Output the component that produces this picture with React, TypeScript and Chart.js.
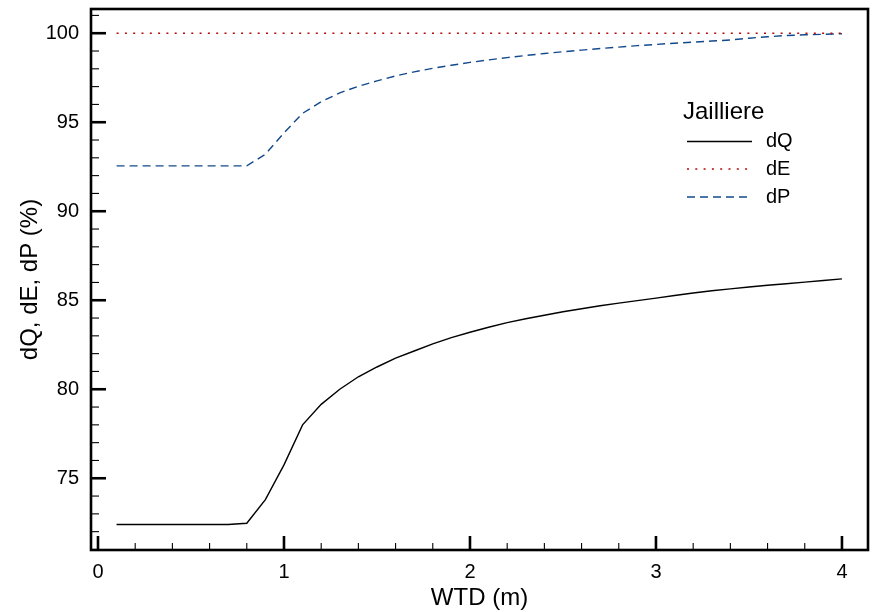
import { useEffect, useRef } from "react";
import { Chart, registerables } from "chart.js";

Chart.register(...registerables);

// Water table depth (m)
const WTD = [
  0.1, 0.2, 0.3, 0.4, 0.5, 0.6, 0.7, 0.8, 0.9, 1.0,
  1.1, 1.2, 1.3, 1.4, 1.5, 1.6, 1.7, 1.8, 1.9, 2.0,
  2.1, 2.2, 2.3, 2.4, 2.5, 2.6, 2.7, 2.8, 2.9, 3.0,
  3.1, 3.2, 3.3, 3.4, 3.5, 3.6, 3.7, 3.8, 3.9, 4.0,
];

// Relative changes (%)
const DQ = [
  72.4, 72.4, 72.4, 72.4, 72.4, 72.4, 72.4, 72.47, 73.8, 75.75,
  78.0, 79.15, 80.0, 80.7, 81.25, 81.75, 82.15, 82.55, 82.9, 83.2,
  83.48, 83.74, 83.96, 84.16, 84.35, 84.52, 84.69, 84.84, 84.98, 85.12,
  85.27, 85.41, 85.53, 85.64, 85.74, 85.84, 85.93, 86.02, 86.11, 86.2,
];

const DE = [
  100, 100, 100, 100, 100, 100, 100, 100, 100, 100,
  100, 100, 100, 100, 100, 100, 100, 100, 100, 100,
  100, 100, 100, 100, 100, 100, 100, 100, 100, 100,
  100, 100, 100, 100, 100, 100, 100, 100, 100, 100,
];

const DP = [
  92.55, 92.55, 92.55, 92.55, 92.55, 92.55, 92.55, 92.55, 93.2, 94.4,
  95.5, 96.15, 96.65, 97.02, 97.32, 97.6, 97.83, 98.03, 98.2, 98.36,
  98.5, 98.63, 98.75, 98.86, 98.96, 99.05, 99.14, 99.22, 99.3, 99.37,
  99.44, 99.5, 99.56, 99.62, 99.72, 99.8, 99.87, 99.91, 99.94, 99.97,
];

const SERIES_LABELS = ["dQ", "dE", "dP"];
const LEGEND_TITLE = "Jailliere";
const X_TITLE = "WTD (m)";
const Y_TITLE = "dQ, dE, dP (%)";
const X_TICKS = [0, 1, 2, 3, 4];
const Y_TICKS = [75, 80, 85, 90, 95, 100];

const FONT = '"Liberation Sans", Arial, Helvetica, sans-serif';

const toPoints = (ys: number[]) => WTD.map((x, i) => ({ x, y: ys[i] }));

// Box frame with inward-pointing major/minor ticks, axis titles and legend
const decorations = {
  id: "decorations",
  afterDraw(chart: any) {
    const { ctx, chartArea: a, scales } = chart;
    const xs = scales.x;
    const ys = scales.y;
    ctx.save();
    ctx.strokeStyle = "#000";
    ctx.lineCap = "butt";

    // x ticks (minor every 0.2)
    for (let i = 0; i <= 20; i++) {
      const px = xs.getPixelForValue(i / 5);
      if (px < a.left || px > a.right) continue;
      const major = i % 5 === 0;
      ctx.lineWidth = major ? 2.6 : 1.1;
      ctx.beginPath();
      ctx.moveTo(px, a.bottom);
      ctx.lineTo(px, a.bottom - (major ? 14 : 7));
      ctx.stroke();
    }
    // y ticks (minor every 1)
    for (let v = 71; v <= 101; v++) {
      const py = ys.getPixelForValue(v);
      if (py < a.top || py > a.bottom) continue;
      const major = v % 5 === 0;
      ctx.lineWidth = major ? 2.6 : 1.1;
      ctx.beginPath();
      ctx.moveTo(a.left, py);
      ctx.lineTo(a.left + (major ? 15 : 8), py);
      ctx.stroke();
    }

    // frame
    ctx.lineWidth = 2.6;
    ctx.strokeRect(a.left, a.top, a.right - a.left, a.bottom - a.top);

    // axis titles
    ctx.fillStyle = "#000";
    ctx.font = `24px ${FONT}`;
    ctx.textAlign = "center";
    ctx.textBaseline = "middle";
    ctx.fillText(X_TITLE, (a.left + a.right) / 2, 598);
    ctx.save();
    ctx.translate(30, (a.top + a.bottom) / 2);
    ctx.rotate(-Math.PI / 2);
    ctx.fillText(Y_TITLE, 0, 0);
    ctx.restore();

    // legend
    ctx.textAlign = "left";
    ctx.textBaseline = "alphabetic";
    ctx.font = `24px ${FONT}`;
    ctx.fillText(LEGEND_TITLE, 683, 119);
    const rows = [141.5, 169, 197];
    ctx.font = `20px ${FONT}`;
    ctx.textBaseline = "middle";
    chart.data.datasets.forEach((ds: any, i: number) => {
      const y = rows[i];
      ctx.save();
      ctx.strokeStyle = ds.borderColor;
      ctx.lineWidth = ds.borderWidth;
      ctx.setLineDash(ds.borderDash || []);
      ctx.beginPath();
      ctx.moveTo(687, y);
      ctx.lineTo(752, y);
      ctx.stroke();
      ctx.restore();
      ctx.fillText(ds.label, 766, y);
    });

    ctx.restore();
  },
};

const noOverflow = (s: any) => {
  s.paddingTop = 0;
  s.paddingBottom = 0;
  s.paddingLeft = 0;
  s.paddingRight = 0;
};

export default function App() {
  const canvasRef = useRef<HTMLCanvasElement>(null);

  useEffect(() => {
    const canvas = canvasRef.current;
    if (!canvas) return;
    const chart = new Chart(canvas, {
      type: "line",
      data: {
        datasets: [
          {
            label: SERIES_LABELS[0],
            data: toPoints(DQ),
            borderColor: "#000000",
            borderWidth: 1.4,
            pointRadius: 0,
            tension: 0,
          },
          {
            label: SERIES_LABELS[1],
            data: toPoints(DE),
            borderColor: "#b40a0a",
            borderWidth: 1.6,
            borderDash: [2, 6.3],
            pointRadius: 0,
            tension: 0,
          },
          {
            label: SERIES_LABELS[2],
            data: toPoints(DP),
            borderColor: "#12498c",
            borderWidth: 1.4,
            borderDash: [8, 5],
            pointRadius: 0,
            tension: 0,
          },
        ],
      },
      options: {
        responsive: false,
        animation: false,
        layout: { padding: { left: 0, top: 9, right: 5, bottom: 0 } },
        plugins: {
          legend: { display: false },
          tooltip: { enabled: false },
        },
        scales: {
          x: {
            type: "linear",
            min: -0.0376,
            max: 4.14,
            grid: { display: false, drawTicks: false },
            border: { display: false },
            afterBuildTicks: (s: any) => {
              s.ticks = X_TICKS.map((value) => ({ value }));
            },
            afterFit: (s: any) => {
              s.height = 62;
              noOverflow(s);
            },
            ticks: {
              padding: 10,
              color: "#000",
              maxRotation: 0,
              font: { family: FONT, size: 20 },
            },
          },
          y: {
            type: "linear",
            min: 70.97,
            max: 101.36,
            grid: { display: false, drawTicks: false },
            border: { display: false },
            afterBuildTicks: (s: any) => {
              s.ticks = Y_TICKS.map((value) => ({ value }));
            },
            afterFit: (s: any) => {
              s.width = 91;
              noOverflow(s);
            },
            ticks: {
              padding: 12,
              color: "#000",
              font: { family: FONT, size: 20 },
            },
          },
        },
      },
      plugins: [decorations],
    });
    return () => chart.destroy();
  }, []);

  return (
    <div style={{ position: "absolute", left: 0, top: 0, width: 873, height: 612, background: "#fff" }}>
      <canvas ref={canvasRef} width={873} height={612} style={{ display: "block" }} />
    </div>
  );
}
